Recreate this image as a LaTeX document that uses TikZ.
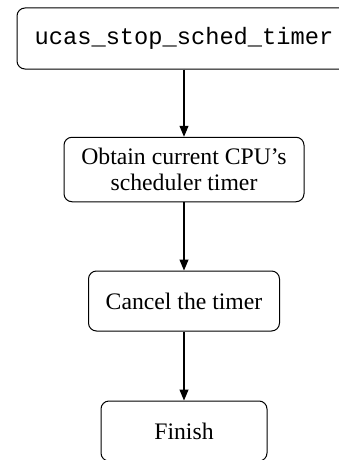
\documentclass[tikz,border=0pt]{standalone}
\usepackage{fontspec}
\setmainfont{Liberation Serif}
\setmonofont{Liberation Mono}
\usepackage{tikz}
\usetikzlibrary{arrows.meta}

\begin{document}
\begin{tikzpicture}[x=1pt, y=-1pt]
    % Define styles
    \tikzset{
        stepbox/.style={draw, line width=1pt, rounded corners=8pt, align=center,
            inner sep=0pt, font=\fontsize{23.7}{26.7}\selectfont},
        flow/.style={-{Triangle[length=11pt, width=9pt]}, line width=1.2pt}
    }
    \useasboundingbox (0,0) rectangle (339,460);
    \clip (0,0) rectangle (339,460);

    % Steps
    \node[stepbox, minimum width=334pt, minimum height=61pt] (start) at (184,38.5)
        {\texttt{ucas\_stop\_sched\_timer}};
    \node[stepbox, minimum width=240pt, minimum height=64.5pt] (obtain) at (184,169.5)
        {Obtain current CPU's\\scheduler timer};
    \node[stepbox, minimum width=191pt, minimum height=60pt] (cancel) at (184,301)
        {Cancel the timer};
    \node[stepbox, minimum width=166pt, minimum height=60pt] (finish) at (184,431)
        {Finish};

    % Connectors
    \draw[flow] (start) -- (obtain);
    \draw[flow] (obtain) -- (cancel);
    \draw[flow] (cancel) -- (finish);
\end{tikzpicture}
\end{document}
